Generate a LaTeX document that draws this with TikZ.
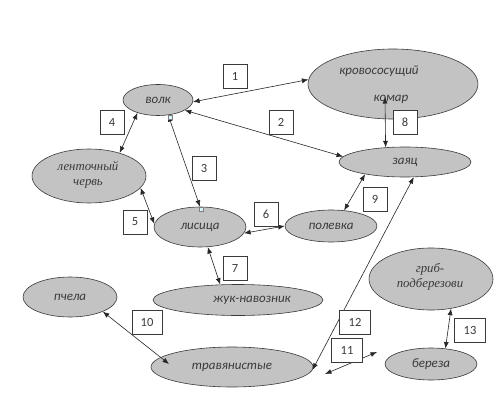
\documentclass[tikz,border=0pt]{standalone}
\usepackage{fontspec}
\setmainfont{Carlito}
\newfontfamily\serifit{Liberation Serif}
\usetikzlibrary{arrows.meta,shapes.geometric}
\definecolor{ellfill}{HTML}{C3C3C3}
\definecolor{ink}{HTML}{3A3A3A}
\tikzset{
  ell/.style={ellipse, draw=ink, fill=ellfill, line width=0.6pt, inner sep=0pt,
    font=\fontsize{13}{14}\selectfont\itshape, text=ink, align=center},
  txt/.style={inner sep=0pt, font=\fontsize{13}{14}\selectfont\itshape, text=ink},
  stxt/.style={inner sep=0pt, font=\serifit\itshape\fontsize{12.8}{15}\selectfont, text=ink, align=center},
  numbox/.style={draw=ink, fill=white, line width=0.6pt, minimum width=24pt, minimum height=24pt,
    inner sep=0pt, font=\fontsize{12.5}{13}\selectfont, text=ink},
  conn/.style={draw=black!85, line width=0.6pt, {Latex[length=6.5pt,width=5pt]}-{Latex[length=6.5pt,width=5pt]}},
  handle/.style={draw=gray, fill=cyan!15, minimum size=3.5pt, inner sep=0pt, line width=0.3pt}
}
\begin{document}
\begin{tikzpicture}[x=1pt,y=-1pt]
\fill[white] (0,0) rectangle (500,417);
\useasboundingbox (0,0) rectangle (500,417);
% ellipses
\node[ell, minimum width=70pt, minimum height=31pt] (volk) at (158,100) {волк};
\node[ell, minimum width=170pt, minimum height=70pt] (komar) at (393,84) {};
\node[txt] (komarA) at (379,71) {кровососущий};
\node[txt] (komarB) at (391,99) {комар};
\node[ell, minimum width=132pt, minimum height=30pt] (zayac) at (405,162) {заяц};
\node[ell, minimum width=114pt, minimum height=54pt] (cherv) at (89,176) {};
\node[stxt] (chervT) at (88,175) {ленточный\\червь};
\node[ell, minimum width=92pt, minimum height=40pt] (lisa) at (200,227) {лисица};
\node[ell, minimum width=92pt, minimum height=32pt] (polevka) at (331,226) {полевка};
\node[ell, minimum width=170pt, minimum height=31pt] (zhuk) at (238,300) {};
\node[txt] (zhukT) at (252,300) {жук-навозник};
\node[ell, minimum width=94pt, minimum height=40pt] (pchela) at (70,297) {пчела};
\node[ell, minimum width=162pt, minimum height=40pt] (trava) at (232,367) {травянистые};
\node[ell, minimum width=124pt, minimum height=62pt] (grib) at (431,279) {};
\node[stxt] (gribT) at (430,277) {гриб-\\подберезови};
\node[ell, minimum width=92pt, minimum height=32pt] (bereza) at (431,364) {береза};
% free coordinates
\coordinate (k8) at (385,97);
\coordinate (t10) at (169,364);
\coordinate (f11a) at (325,374);
\coordinate (f11b) at (377,352);
% connectors
\draw[conn] (volk.-3) -- (komar.177);
\draw[conn] (volk.-21) -- (zayac.175);
\draw[conn] (volk.-56) -- (lisa.90);
\draw[conn] (volk.212) -- (cherv.37);
\draw[conn] (cherv.-13) -- (lisa.176);
\draw[conn] (lisa.-8) -- (polevka.180);
\draw[conn] (lisa.-69) -- (zhuk.139);
\draw[conn] (k8) -- (zayac.143);
\draw[conn] (zayac.197) -- (polevka.50);
\draw[conn] (pchela.-24) -- (t10);
\draw[conn] (f11a) -- (f11b);
\draw[conn] (trava.-2) -- (zayac.-60);
\draw[conn] (grib.-56) -- (bereza.47);
% handles
\node[handle] (h1) at (170,117) {};
\node[handle] (h2) at (201,209) {};
% number boxes
\node[numbox] (n1) at (235,76) {1};
\node[numbox] (n2) at (281,122) {2};
\node[numbox] (n3) at (204,168) {3};
\node[numbox] (n4) at (112,122) {4};
\node[numbox] (n5) at (135,222) {5};
\node[numbox] (n6) at (266,214) {6};
\node[numbox] (n7) at (235,268) {7};
\node[numbox] (n8) at (405,122) {8};
\node[numbox] (n9) at (375,199) {9};
\node[numbox, minimum width=30pt] (n10) at (147,322) {10};
\node[numbox, minimum width=31pt] (n11) at (347,350) {11};
\node[numbox, minimum width=31pt] (n12) at (355,322) {12};
\node[numbox, minimum width=31pt] (n13) at (470,330) {13};
\end{tikzpicture}
\end{document}
